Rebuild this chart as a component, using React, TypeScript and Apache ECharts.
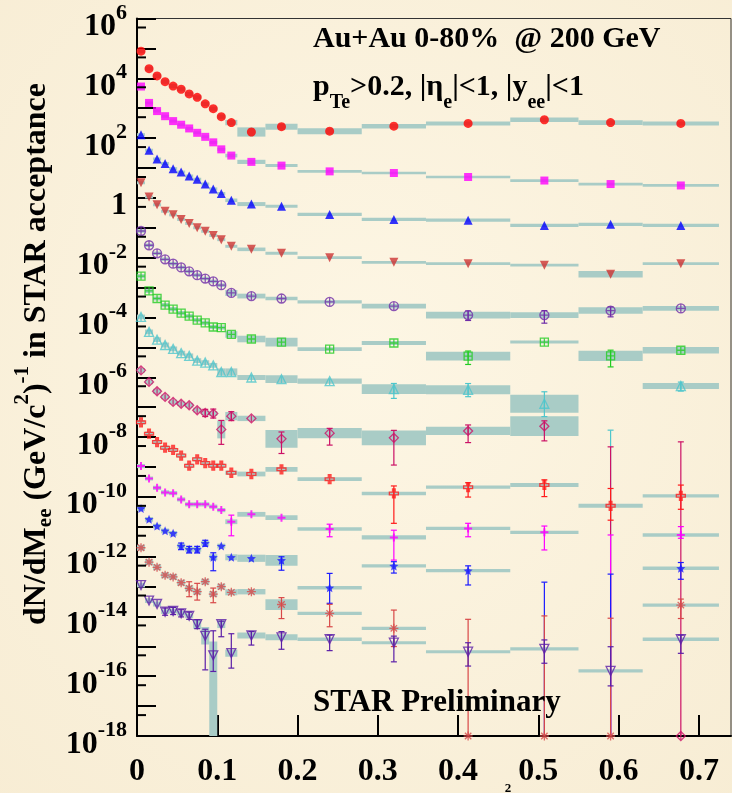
import React, { useEffect, useRef } from "react";
import * as echarts from "echarts";

// ---------- data ----------
const massBinEdges = [0, 0.01, 0.02, 0.03, 0.04, 0.05, 0.06, 0.07, 0.08, 0.09, 0.1, 0.11, 0.125, 0.16, 0.2, 0.28, 0.36, 0.465, 0.55, 0.63, 0.725];

const xTickLabels = ["0", "0.1", "0.2", "0.3", "0.4", "0.5", "0.6", "0.7"];
const yLabelExponents = [6, 4, 2, 0, -2, -4, -6, -8, -10, -12, -14, -16, -18];
const yMinorTickValues = [5e5, 5e4, 5e3, 5e2, 50, 5, 0.5, 5e-2, 5e-3, 5e-4, 5e-5, 5e-6, 5e-7, 5e-8, 5e-9, 5e-10, 5e-11, 5e-12, 5e-13, 5e-14, 5e-15, 5e-16, 5e-17, 5e-18];

const yieldC01 = [8.1e4, 2.1e4, 1.2e4, 7.7e3, 5.5e3, 4.3e3, 3.0e3, 2.3e3, 1.4e3, 9.6e2, 5.2e2, 3.3e2, 1.6e2, 2.4e2, 1.7e2, 2.5e2, 3.1e2, 4.1e2, 3.3e2, 3.1e2];
const yieldC02 = [5.3e3, 1.5e3, 8.0e2, 5.4e2, 3.7e2, 2.8e2, 2.1e2, 1.5e2, 1.1e2, 72, 42, 26, 16, 12, 7.7, 6.8, 5.0, 3.8, 2.9, 2.6];
const yieldC03 = [1.3e2, 39, 20, 14, 9.5, 7.3, 5.4, 4.2, 2.9, 2.0, 1.4, 0.83, 0.62, 0.52, 0.28, 0.19, 0.18, 0.12, 0.13, 0.12];
const yieldC04 = [3.2, 1.07, 0.59, 0.36, 0.27, 0.19, 0.14, 0.10, 0.076, 0.055, 0.040, 0.024, 0.019, 0.014, 0.010, 0.0070, 0.0063, 0.0056, 0.0028, 0.0063];
const yieldC05 = [0.078, 0.026, 0.014, 0.0088, 0.0063, 0.0047, 0.0035, 0.0026, 0.0020, 0.0016, 0.0012, 6.6e-4, 5.2e-4, 4.3e-4, 3.3e-4, 2.4e-4, 1.2e-4, 1.2e-4, 1.7e-4, 2.0e-4];
const yieldC06 = [2.4e-3, 7.7e-4, 4.3e-4, 2.6e-4, 1.9e-4, 1.4e-4, 1.1e-4, 8.1e-5, 6.6e-5, 4.8e-5, 4.6e-5, 2.7e-5, 1.9e-5, 1.5e-5, 8.7e-6, 1.4e-5, 5.1e-6, 1.5e-5, 5.2e-6, 8.0e-6];
const yieldC07 = [1.04e-4, 3.3e-5, 1.8e-5, 1.2e-5, 8.9e-6, 6.4e-6, 5.2e-6, 3.6e-6, 3.1e-6, 2.5e-6, 1.5e-6, 1.5e-6, 9.8e-7, 8.6e-7, 7.4e-7, 4.0e-7, 3.8e-7, 1.3e-7, null, 5.1e-7];
const yieldC08 = [1.7e-6, 7.0e-7, 3.4e-7, 2.2e-7, 1.5e-7, 1.3e-7, 1.16e-7, 7.9e-8, 6.4e-8, 6.1e-8, 1.8e-8, 5.0e-8, 4.2e-8, 8.7e-9, 1.35e-8, 9.4e-9, 1.6e-8, 2.3e-8, null, null];
const yieldC09 = [3.1e-8, 1.3e-8, 6.8e-9, 4.4e-9, 3.7e-9, 2.4e-9, 1.1e-9, 1.8e-9, 1.35e-9, 1.1e-9, 1.1e-9, 6.4e-10, 5.8e-10, 8.3e-10, 3.9e-10, 1.3e-10, 2.1e-10, 2.5e-10, 5.0e-11, 1.08e-10];
const yieldC10 = [1.07e-9, 4.1e-10, 2.0e-10, 1.4e-10, 1.33e-10, 8.2e-11, 5.6e-11, 5.6e-11, 5.6e-11, 4.7e-11, 3.6e-11, 1.47e-11, 2.6e-11, 2.0e-11, 8.4e-12, 4.4e-12, 8.8e-12, 6.5e-12, null, 5.3e-12];
const yieldC11 = [4.1e-11, 1.77e-11, 1.05e-11, 7.3e-12, 6.0e-12, 2.26e-12, 1.75e-12, 1.75e-12, 2.8e-12, 9.5e-13, 2.26e-12, 9.5e-13, 8.8e-13, 7.5e-13, 9.1e-14, 4.9e-13, 3.4e-13, null, null, 4.1e-13];
const yieldC12 = [1.98e-12, 6.5e-13, 4.4e-13, 2.4e-13, 2.1e-13, 1.34e-13, 8.7e-14, 6.7e-14, 1.45e-13, 5.6e-14, 9.9e-14, 6.4e-14, 6.7e-14, 2.5e-14, 1.27e-14, 4.0e-15, null, null, null, 2.4e-14];
const yieldC13 = [1.12e-13, 3.4e-14, 2.6e-14, 1.44e-14, 1.52e-14, 1.27e-14, 1.05e-14, 5.5e-15, 2.25e-15, 5.0e-16, 5.5e-15, 5.9e-16, 2.3e-15, 2.0e-15, 1.72e-15, 1.32e-15, 6.6e-16, 8.2e-16, 1.5e-16, 1.72e-15];

// systematic uncertainty half-heights, in decades ([down, up] when asymmetric)
const sysC01 = [0.07, 0.07, 0.07, 0.07, 0.07, 0.07, 0.07, 0.07, 0.07, 0.07, 0.07, 0.09, 0.155, 0.1, 0.1, 0.077, 0.067, 0.078, 0.078, 0.067];
const sysC02 = [0.05, 0.05, 0.05, 0.05, 0.05, 0.05, 0.05, 0.05, 0.05, 0.05, 0.05, 0.06, 0.07, 0.05, 0.045, 0.045, 0.045, 0.045, 0.045, 0.045];
const sysC03 = [0.05, 0.05, 0.05, 0.05, 0.05, 0.05, 0.05, 0.05, 0.05, 0.05, 0.05, 0.06, 0.067, 0.05, 0.055, 0.055, 0.055, 0.055, 0.055, 0.055];
const sysC04 = [0.05, 0.05, 0.05, 0.05, 0.05, 0.05, 0.05, 0.05, 0.05, 0.05, 0.05, 0.05, 0.06, 0.05, 0.045, 0.045, 0.045, 0.045, 0.11, 0.045];
const sysC05 = [0.06, 0.06, 0.06, 0.06, 0.06, 0.06, 0.06, 0.06, 0.06, 0.06, 0.06, 0.1, 0.08, 0.06, 0.055, 0.08, 0.11, 0.095, 0.11, 0.08];
const sysC06 = [0.07, 0.07, 0.07, 0.07, 0.07, 0.07, 0.07, 0.07, 0.07, 0.07, 0.07, 0.11, 0.11, 0.145, 0.06, 0.07, 0.145, 0.05, 0.17, 0.105];
const sysC07 = [0.08, 0.08, 0.08, 0.08, 0.08, 0.08, 0.08, 0.08, 0.08, 0.08, 0.12, 0.12, 0.083, 0.13, 0.085, 0.16, 0.15, 0.3, 0, 0.1];
const sysC08 = [0.08, 0.08, 0.08, 0.08, 0.08, 0.08, 0.08, 0.08, 0.08, 0.08, 0.3, 0.14, 0.09, 0.3, 0.17, 0.245, 0.14, 0.33, 0, 0];
const sysC09 = [0.07, 0.07, 0.07, 0.07, 0.07, 0.07, 0.07, 0.07, 0.07, 0.07, 0.07, 0.07, 0.08, 0.08, 0.06, 0.057, 0.055, 0.067, 0.067, 0.057];
const sysC10 = [0.07, 0.07, 0.07, 0.07, 0.07, 0.07, 0.07, 0.07, 0.07, 0.07, 0.07, 0.08, 0.08, 0.08, 0.056, 0.072, 0.056, 0.056, 0, 0.056];
const sysC11 = [0.08, 0.08, 0.08, 0.08, 0.08, 0.08, 0.08, 0.08, 0.08, 0.1, 0.08, 0.1, 0.12, 0.18, 0.056, 0.056, 0.056, 0, 0, 0.056];
const sysC12 = [0.1, 0.1, 0.1, 0.1, 0.1, 0.1, 0.1, 0.1, 0.1, 0.1, 0.1, 0.1, 0.09, 0.18, 0.056, 0.056, 0, 0, 0, 0.056];
const sysC13 = [0.08, 0.08, 0.08, 0.08, 0.08, 0.08, 0.08, 0.15, 0.29, [3, 0.46], 0.13, 0.12, 0.1, 0.1, 0.056, 0.05, 0.05, 0.056, 0.056, 0.056];

// statistical error bars: [curve, bin, down (decades), up (decades)]
const statErrors = [
  [4, 16, 0.18, 0.14], [4, 17, 0.27, 0.15], [4, 18, 0.21, 0.12],
  [5, 16, 0.28, 0.17], [5, 18, 0.37, 0.19],
  [6, 15, 0.31, 0.19], [6, 16, 0.23, 0.21], [6, 17, 0.43, 0.4], [6, 19, 0.17, 0.13],
  [7, 8, 0.12, 0.12], [7, 9, 0.15, 0.15], [7, 10, 0.5, 0.3], [7, 11, 0.15, 0.15], [7, 13, 0.49, 0.23], [7, 14, 0.4, 0.16], [7, 15, 0.91, 0.25], [7, 16, 0.39, 0.2], [7, 17, 0.49, 0.18],
  [8, 15, 1.0, 0.25], [8, 16, 0.33, 0.15], [8, 17, 0.39, 0.17], [8, 18, 0.48, 0.58], [8, 19, 0.45, 0.36],
  [9, 11, 0.47, 0.22], [9, 14, 0.26, 0.16], [9, 15, 0.76, 0.24], [9, 16, 0.28, 0.17], [9, 17, 0.59, 0.21], [9, 19, 0.11, 0.28],
  [10, 5, 0.12, 0.1], [10, 6, 0.12, 0.1], [10, 7, 0.12, 0.1], [10, 8, 0.1, 0.1], [10, 9, 0.45, 0.15], [10, 13, 0.33, 0.12], [10, 14, 0.52, 0.48], [10, 15, 0.24, 0.14], [10, 16, 0.48, 0.16], [10, 19, 0.37, 0.19],
  [11, 6, 0.28, 0.22], [11, 7, 0.28, 0.28], [11, 9, 0.29, 0.2], [11, 13, 0.47, 0.23], [11, 14, 0.45, 0.3], [11, 15, 0.61, 0.61], [11, 19, 0.45, 0.2],
  [12, 3, 0.12, 0.12], [12, 4, 0.12, 0.12], [12, 5, 0.12, 0.12], [12, 6, 0.12, 0.12], [12, 7, 0.15, 0.15], [12, 8, 1.14, 0.22], [12, 9, 0.54, 0.82], [12, 10, 0.42, 0.1], [12, 11, 0.5, 0.65], [12, 12, 0.32, 0.13], [12, 13, 0.4, 0.19], [12, 14, 0.38, 0.14], [12, 15, 0.64, 0.22], [12, 16, 0.48, 0.3], [12, 17, 0.48, 0.3], [12, 18, 0.5, 0.81], [12, 19, 0.47, 0.14],
];

// bins whose yield is off scale: error bar from the axis floor up to this value [curve, bin, upper value]
const offScaleUpper = [
  [6, 18, 1.7e-8], [7, 18, 4.7e-9], [7, 19, 6.9e-9], [9, 18, 5.3e-12], [10, 17, 1.4e-13], [10, 18, 2.6e-13],
  [11, 16, 8.0e-15], [11, 17, 1.04e-14], [11, 18, 8.7e-15],
];
// markers drawn on the axis floor [curve, bin]
const floorMarkers = [[11, 16], [11, 17], [11, 18], [7, 19]];

// ---------- styles ----------
const SERIF = "'Liberation Serif', 'DejaVu Serif', 'Times New Roman', serif";
const BOX_COLOR = "#a9ccc6";
const Y_MIN = -18;
const Y_MAX = 6;

const CIRCLE_PLUS = "path://M10,0C15.52,0,20,4.48,20,10C20,15.52,15.52,20,10,20C4.48,20,0,15.52,0,10C0,4.48,4.48,0,10,0ZM0,10L20,10M10,0L10,20";
const SQUARE_PLUS = "path://M0,0L20,0L20,20L0,20ZM0,10L20,10M10,0L10,20";
const OPEN_TRI = "path://M10,0L20,18L0,18ZM10,0L10,18";
const OPEN_DIAMOND = "path://M10,0L17,10L10,20L3,10ZM10,0L10,20";
const OPEN_CROSS = "path://M7,0L13,0L13,7L20,7L20,13L13,13L13,20L7,20L7,13L0,13L0,7L7,7ZM10,0L10,20";
const FILLED_CROSS = "path://M7.5,0L12.5,0L12.5,7.5L20,7.5L20,12.5L12.5,12.5L12.5,20L7.5,20L7.5,12.5L0,12.5L0,7.5L7.5,7.5Z";
const STAR = "path://M10,0L12.9,6.9L20,7.6L14.6,12.4L16.2,19.5L10,15.8L3.8,19.5L5.4,12.4L0,7.6L7.1,6.9Z";
const ASTERISK = "path://M10,0L10,20M0,10L20,10M2.9,2.9L17.1,17.1M2.9,17.1L17.1,2.9";
const DOWN_TRI = "path://M0,0L20,0L10,18Z";
const OPEN_DOWN_TRI = "path://M0,0L20,0L10,18ZM10,0L10,18";

const curves = [
  { values: yieldC01, sys: sysC01, color: "#ff0000", symbol: "circle", size: 9, open: false },
  { values: yieldC02, sys: sysC02, color: "#ff00ff", symbol: "rect", size: 8, open: false },
  { values: yieldC03, sys: sysC03, color: "#0000ff", symbol: "triangle", size: 9, open: false },
  { values: yieldC04, sys: sysC04, color: "#cc3333", symbol: DOWN_TRI, size: 9, open: false },
  { values: yieldC05, sys: sysC05, color: "#6f2da8", symbol: CIRCLE_PLUS, size: 9, open: true },
  { values: yieldC06, sys: sysC06, color: "#22cc22", symbol: SQUARE_PLUS, size: 8, open: true },
  { values: yieldC07, sys: sysC07, color: "#4ec6cc", symbol: OPEN_TRI, size: 9, open: true },
  { values: yieldC08, sys: sysC08, color: "#cc1166", symbol: OPEN_DIAMOND, size: 9, open: true },
  { values: yieldC09, sys: sysC09, color: "#ff1a1a", symbol: OPEN_CROSS, size: 9, open: true },
  { values: yieldC10, sys: sysC10, color: "#ff00ff", symbol: FILLED_CROSS, size: 8, open: false },
  { values: yieldC11, sys: sysC11, color: "#1a1aff", symbol: STAR, size: 9, open: false },
  { values: yieldC12, sys: sysC12, color: "#d84848", symbol: ASTERISK, size: 9, open: true },
  { values: yieldC13, sys: sysC13, color: "#5b1fa8", symbol: OPEN_DOWN_TRI, size: 9, open: true },
];

function buildOption() {
  const lg = (v: number) => Math.log10(v);
  const clampY = (v: number) => Math.max(Y_MIN, Math.min(Y_MAX, v));
  const centers = massBinEdges.slice(0, -1).map((e, i) => (e + massBinEdges[i + 1]) / 2);

  const boxes: number[][] = [];
  curves.forEach((c, ci) => {
    c.values.forEach((v: any, i: number) => {
      if (v == null) return;
      const s: any = c.sys[i];
      const dn = Array.isArray(s) ? s[0] : s;
      const up = Array.isArray(s) ? s[1] : s;
      if (!dn && !up) return;
      boxes.push([massBinEdges[i], massBinEdges[i + 1], clampY(lg(v) - dn), clampY(lg(v) + up), ci]);
    });
  });

  const bars: number[][] = [];
  curves.forEach((c, ci) => {
    statErrors.filter((e) => e[0] === ci).forEach(([, bin, dn, up]) => {
      const v = c.values[bin] as number;
      bars.push([centers[bin], clampY(lg(v) - dn), clampY(lg(v) + up), ci, 1, 1]);
    });
    offScaleUpper.filter((e) => e[0] === ci).forEach(([, bin, top]) => {
      bars.push([centers[bin], Y_MIN, lg(top), ci, 0, 1]);
    });
  });

  const markerSeries = curves.map((c, ci) => {
    const data: number[][] = [];
    c.values.forEach((v: any, i: number) => {
      if (v != null) data.push([centers[i], lg(v)]);
    });
    floorMarkers.filter((m) => m[0] === ci).forEach(([, bin]) => data.push([centers[bin], Y_MIN]));
    return {
      type: "scatter",
      z: 5,
      symbol: c.symbol,
      symbolSize: c.size,
      data,
      itemStyle: c.open
        ? { color: "rgba(0,0,0,0)", borderColor: c.color, borderWidth: 1.3 }
        : { color: c.color, borderWidth: 0 },
      emphasis: { disabled: true },
      clip: false,
    };
  });

  const labelRich = {
    b: { fontSize: 32, fontWeight: "bold", fontFamily: SERIF, color: "#000", lineHeight: 48, verticalAlign: "middle" },
    s: { fontSize: 22, fontWeight: "bold", fontFamily: SERIF, color: "#000", verticalAlign: "top" },
  };

  return {
    animation: false,
    backgroundColor: {
      type: "radial", x: 0.5, y: 0.45, r: 0.8,
      colorStops: [{ offset: 0, color: "#fdf6e4" }, { offset: 1, color: "#f7ecd3" }],
    },
    grid: { left: 137, top: 18, width: 594, height: 718, show: true, borderColor: "#333", borderWidth: 1, backgroundColor: "rgba(0,0,0,0)" },
    xAxis: {
      type: "value", min: 0, max: 0.74, interval: 0.1,
      axisLine: { onZero: false, lineStyle: { color: "#000", width: 2 } },
      axisTick: { inside: true, length: 21, lineStyle: { color: "#000", width: 2 } },
      splitLine: { show: false },
      axisLabel: {
        margin: 17, color: "#000", fontSize: 32, fontWeight: "bold", fontFamily: SERIF, showMaxLabel: false,
        formatter: (v: number) => {
          const k = Math.round(v * 10);
          return Math.abs(v * 10 - k) < 1e-6 && k < xTickLabels.length ? xTickLabels[k] : "";
        },
      },
    },
    yAxis: {
      type: "value", min: Y_MIN, max: Y_MAX, interval: 1,
      axisLine: { onZero: false, lineStyle: { color: "#000", width: 2 } },
      axisTick: { inside: true, length: 19, lineStyle: { color: "#000", width: 2 } },
      splitLine: { show: false },
      axisLabel: {
        margin: 10, padding: [11, 0, 0, 0], rich: labelRich,
        formatter: (v: number) => {
          const n = Math.round(v);
          if (!yLabelExponents.includes(n)) return "";
          return n === 0 ? "{b|1}" : `{b|10}{s|${n}}`;
        },
      },
    },
    series: [
      {
        type: "custom", z: 2, data: boxes, silent: true,
        renderItem: (params: any, api: any) => {
          const p1 = api.coord([api.value(0), api.value(3)]);
          const p2 = api.coord([api.value(1), api.value(2)]);
          return { type: "rect", shape: { x: p1[0], y: p1[1], width: p2[0] - p1[0], height: p2[1] - p1[1] }, style: { fill: BOX_COLOR } };
        },
      },
      {
        type: "custom", z: 3, data: bars, silent: true,
        renderItem: (params: any, api: any) => {
          const x = api.value(0);
          const lo = api.coord([x, api.value(1)]);
          const hi = api.coord([x, api.value(2)]);
          const color = curves[api.value(3)].color;
          const children: any[] = [
            { type: "line", shape: { x1: lo[0], y1: lo[1], x2: hi[0], y2: hi[1] }, style: { stroke: color, lineWidth: 1.2 } },
          ];
          if (api.value(4)) children.push({ type: "line", shape: { x1: lo[0] - 3, y1: lo[1], x2: lo[0] + 3, y2: lo[1] }, style: { stroke: color, lineWidth: 1.2 } });
          if (api.value(5)) children.push({ type: "line", shape: { x1: hi[0] - 3, y1: hi[1], x2: hi[0] + 3, y2: hi[1] }, style: { stroke: color, lineWidth: 1.2 } });
          return { type: "group", children };
        },
      },
      ...markerSeries,
      {
        type: "custom", z: 6, silent: true,
        data: yMinorTickValues.map((v) => [0, Math.log10(v)]),
        renderItem: (params: any, api: any) => {
          const p = api.coord([0, api.value(1)]);
          return { type: "line", shape: { x1: p[0], y1: p[1], x2: p[0] + 9, y2: p[1] }, style: { stroke: "#000", lineWidth: 2 } };
        },
      },
    ],
    graphic: [
      {
        type: "text", x: 34, y: 354, rotation: Math.PI / 2, z: 10,
        style: {
          text: "{t|dN/dM}{sub|ee}{t| (GeV/c}{sup|2}{t|)}{sup|-1}{t| in STAR acceptance}",
          align: "center", verticalAlign: "middle",
          rich: {
            t: { fontSize: 32, fontWeight: "bold", fontFamily: SERIF, fill: "#000", lineHeight: 48, verticalAlign: "middle" },
            sub: { fontSize: 21, fontWeight: "bold", fontFamily: SERIF, fill: "#000", verticalAlign: "top", padding: [23, 0, 0, 0] },
            sup: { fontSize: 21, fontWeight: "bold", fontFamily: SERIF, fill: "#000", verticalAlign: "top" },
          },
        },
      },
      {
        type: "text", x: 313, y: 36, z: 10,
        style: { text: "Au+Au 0-80%  @ 200 GeV", font: `bold 30px ${SERIF}`, fill: "#000", align: "left", verticalAlign: "middle" },
      },
      {
        type: "text", x: 313, y: 84, z: 10,
        style: {
          text: "{t|p}{sub|Te}{t|>0.2, |η}{sub|e}{t||<1, |y}{sub|ee}{t||<1}",
          align: "left", verticalAlign: "middle",
          rich: {
            t: { fontSize: 30, fontWeight: "bold", fontFamily: SERIF, fill: "#000", lineHeight: 54, verticalAlign: "middle" },
            sub: { fontSize: 20, fontWeight: "bold", fontFamily: SERIF, fill: "#000", verticalAlign: "top", padding: [34, 0, 0, 0] },
          },
        },
      },
      {
        type: "text", x: 313, y: 700, z: 10,
        style: { text: "STAR Preliminary", font: `bold 31px ${SERIF}`, fill: "#000", align: "left", verticalAlign: "middle" },
      },
      {
        // the x-axis title lies below the picture; only its superscript "2" peeks in
        type: "text", x: 508, y: 787, z: 10,
        style: { text: "2", font: `bold 13px ${SERIF}`, fill: "#000", align: "center", verticalAlign: "middle" },
      },
    ],
  };
}

export default function App() {
  const ref = useRef<HTMLDivElement>(null);
  useEffect(() => {
    if (!ref.current) return;
    const chart = echarts.init(ref.current, null, { renderer: "svg" });
    chart.setOption(buildOption() as any);
    return () => chart.dispose();
  }, []);
  return <div ref={ref} style={{ position: "fixed", left: 0, top: 0, width: 732, height: 793 }} />;
}
